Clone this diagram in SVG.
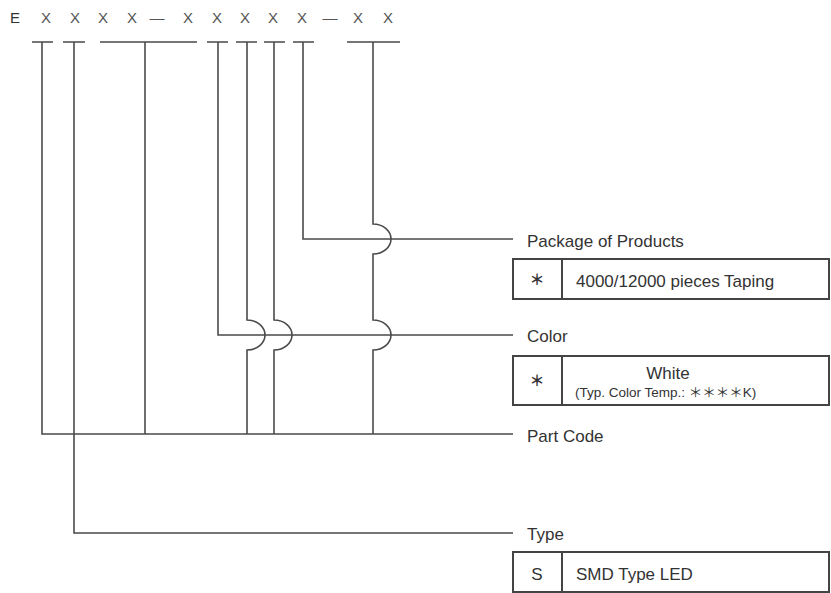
<svg xmlns="http://www.w3.org/2000/svg" width="831" height="593" viewBox="0 0 831 593">
<style>
.ln{fill:none;stroke:#4a4a4a;stroke-width:1.6}
.bx{fill:#fff;stroke:#444;stroke-width:2}
.hd{font-family:"Liberation Sans",Arial,sans-serif;font-size:15px;fill:#555;text-anchor:middle}
.lb{font-family:"Liberation Sans",Arial,sans-serif;font-size:17px;fill:#333}
.st{font-family:"Noto Sans CJK JP","Noto Sans CJK SC",sans-serif;font-size:15px;font-weight:bold;fill:#333;text-anchor:middle}
.sm{font-family:"Liberation Sans",Arial,"Noto Sans CJK JP",sans-serif;font-size:13.5px;fill:#333}
</style>
<rect width="831" height="593" fill="#fff"/>
<g id="code">
<text class="hd" y="23" x="15 46 75 103 132 157 188 217 245 273 302 330 358 388"><tspan fill="#333">E</tspan>XXXX—XXXXX—XX</text>
</g>
<g id="connectors">
<path class="ln" d="M32,42H53M63,42H85M100,42H197M207,42H228M236,42H257M264,42H285M293,42H314M347,42H400"/>
<path class="ln" d="M42,42V434H513"/>
<path class="ln" d="M74,42V533H513"/>
<path class="ln" d="M145,42V434"/>
<path class="ln" d="M218,42V335H513"/>
<path class="ln" d="M247,42V320A18,15 0 0 1 247,350V434"/>
<path class="ln" d="M274,42V320A18,15 0 0 1 274,350V434"/>
<path class="ln" d="M303,42V239H513"/>
<path class="ln" d="M373,42V224A18,15 0 0 1 373,254V320A18,15 0 0 1 373,350V434"/>
</g>
<g id="package">
<text class="lb" x="527" y="247">Package of Products</text>
<rect class="bx" x="513" y="259" width="316" height="40"/>
<line class="bx" x1="562" y1="259" x2="562" y2="299"/>
<text class="st" x="537" y="285">＊</text>
<text class="lb" x="576" y="287">4000/12000 pieces Taping</text>
</g>
<g id="color">
<text class="lb" x="527" y="342">Color</text>
<rect class="bx" x="513" y="356" width="316" height="49"/>
<line class="bx" x1="562" y1="356" x2="562" y2="405"/>
<text class="st" x="537" y="386">＊</text>
<text class="lb" x="668" y="379" text-anchor="middle" font-size="16">White</text>
<text class="sm" x="575" y="397">(Typ. Color Temp.: ＊＊＊＊K)</text>
</g>
<g id="partcode">
<text class="lb" x="527" y="442">Part Code</text>
</g>
<g id="type">
<text class="lb" x="527" y="540">Type</text>
<rect class="bx" x="513" y="552" width="316" height="40"/>
<line class="bx" x1="562" y1="552" x2="562" y2="592"/>
<text class="lb" x="537" y="580" text-anchor="middle">S</text>
<text class="lb" x="576" y="580">SMD Type LED</text>
</g>
</svg>
